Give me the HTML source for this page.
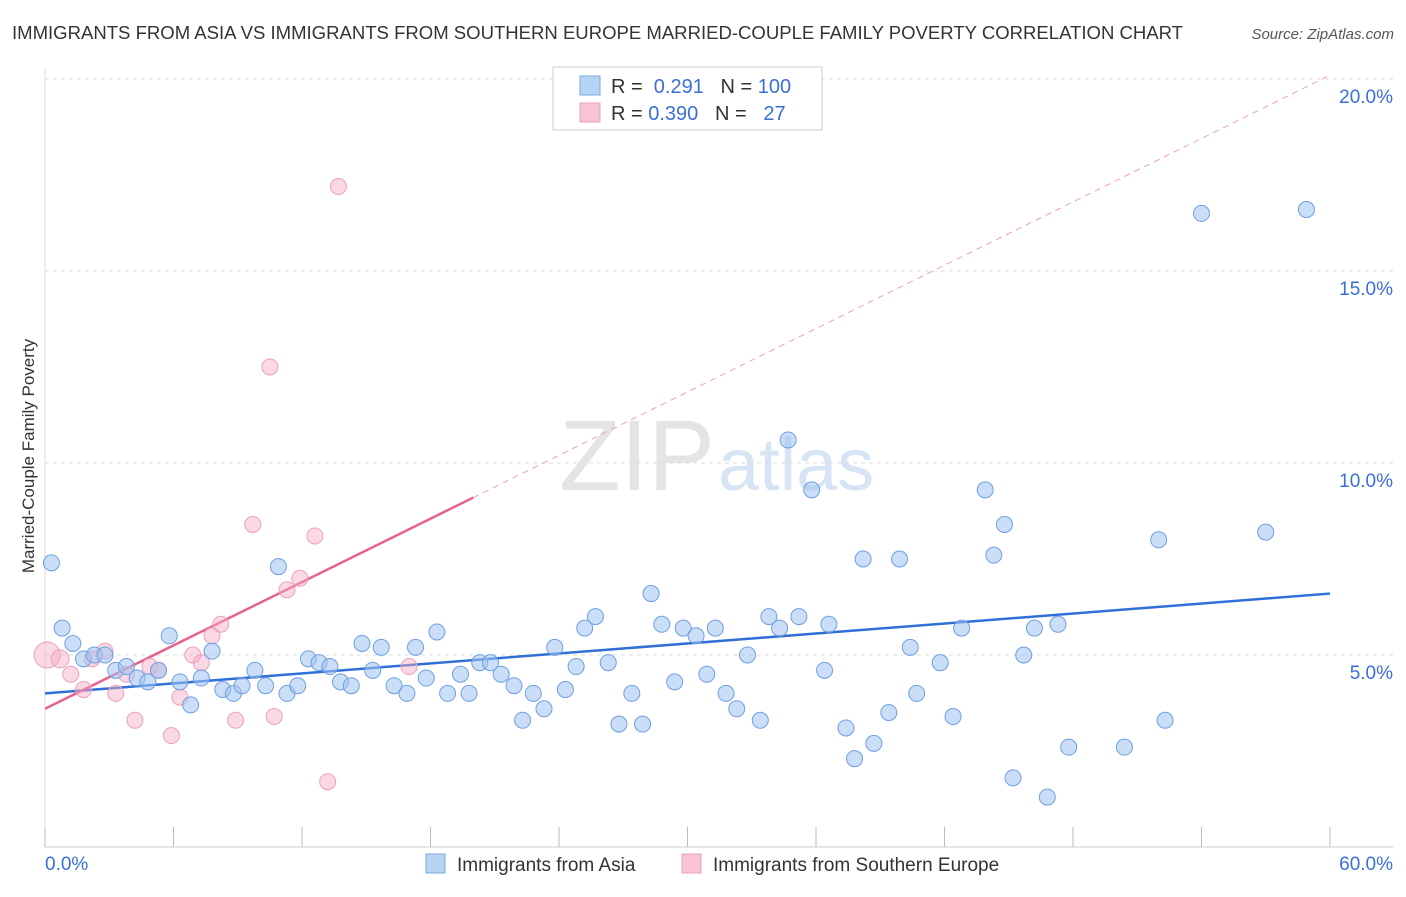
<!DOCTYPE html>
<html><head><meta charset="utf-8"><style>
body{margin:0;background:#fff;font-family:"Liberation Sans",sans-serif}
svg text{font-family:"Liberation Sans",sans-serif}
</style></head><body>
<svg id="chart" width="1406" height="892" xmlns="http://www.w3.org/2000/svg">
<text x="12" y="39" font-size="18" fill="#333" textLength="1171" lengthAdjust="spacingAndGlyphs">IMMIGRANTS FROM ASIA VS IMMIGRANTS FROM SOUTHERN EUROPE MARRIED-COUPLE FAMILY POVERTY CORRELATION CHART</text>
<text x="1394" y="39" font-size="15" fill="#555" text-anchor="end" font-style="italic">Source: ZipAtlas.com</text>
<text x="715" y="490" font-size="100" fill="#e4e4e4" text-anchor="end" font-family="Liberation Serif">ZIP</text>
<text x="718" y="490" font-size="74" fill="#d6e4f4">atlas</text>
<g id="grid"></g><g id="axes"></g><g id="lines"></g><g id="points"></g>
<text transform="translate(34,456) rotate(-90)" font-size="17" fill="#333" text-anchor="middle">Married-Couple Family Poverty</text>
<g>
<rect x="553" y="67" width="269" height="63" fill="#fff" stroke="#ccc"/>
<rect x="580" y="76" width="20" height="19" fill="#b8d4f4" stroke="#7aa8e0"/>
<rect x="580" y="103" width="20" height="19" fill="#f8c4d4" stroke="#eaa0b8"/>
<text x="611" y="93" font-size="20" fill="#333">R = <tspan fill="#3a6fd8">&#160;0.291</tspan>&#160;&#160;&#160;N = <tspan fill="#3a6fd8">100</tspan></text>
<text x="611" y="120" font-size="20" fill="#333">R = <tspan fill="#3a6fd8">0.390</tspan>&#160;&#160;&#160;N = <tspan fill="#3a6fd8">&#160;&#160;27</tspan></text>
</g>
<g>
<rect x="426" y="854" width="19" height="19" fill="#b8d4f4" stroke="#7aa8e0"/>
<text x="457" y="871" font-size="19" fill="#333">Immigrants from Asia</text>
<rect x="682" y="854" width="19" height="19" fill="#f8c4d4" stroke="#eaa0b8"/>
<text x="713" y="871" font-size="19" fill="#333">Immigrants from Southern Europe</text>
</g>
</svg>
<script>
const yTicks=[5,10,15,20];
const yTickLabels=["5.0%","10.0%","15.0%","20.0%"];
const xTickCount=10;
const asiaX=[0.3,0.8,1.3,1.8,2.3,2.8,3.3,3.8,4.3,4.8,5.3,5.8,6.3,6.8,7.3,7.8,8.3,8.8,9.2,9.8,10.3,10.9,11.3,11.8,12.3,12.8,13.3,13.8,14.3,14.8,15.3,15.7,16.3,16.9,17.3,17.8,18.3,18.8,19.4,19.8,20.3,20.8,21.3,21.9,22.3,22.8,23.3,23.8,24.3,24.8,25.2,25.7,26.3,26.8,27.4,27.9,28.3,28.8,29.4,29.8,30.4,30.9,31.3,31.8,32.3,32.8,33.4,33.8,34.3,34.7,35.2,35.8,36.4,36.6,37.4,37.8,38.2,38.7,39.4,39.9,40.4,40.7,41.8,42.4,42.8,43.9,44.3,44.8,45.2,45.7,46.2,46.8,47.3,47.8,50.4,52.0,52.3,54.0,57.0,58.9];
const asiaY=[7.4,5.7,5.3,4.9,5.0,5.0,4.6,4.7,4.4,4.3,4.6,5.5,4.3,3.7,4.4,5.1,4.1,4.0,4.2,4.6,4.2,7.3,4.0,4.2,4.9,4.8,4.7,4.3,4.2,5.3,4.6,5.2,4.2,4.0,5.2,4.4,5.6,4.0,4.5,4.0,4.8,4.8,4.5,4.2,3.3,4.0,3.6,5.2,4.1,4.7,5.7,6.0,4.8,3.2,4.0,3.2,6.6,5.8,4.3,5.7,5.5,4.5,5.7,4.0,3.6,5.0,3.3,6.0,5.7,10.6,6.0,9.3,4.6,5.8,3.1,2.3,7.5,2.7,3.5,7.5,5.2,4.0,4.8,3.4,5.7,9.3,7.6,8.4,1.8,5.0,5.7,1.3,5.8,2.6,2.6,8.0,3.3,16.5,8.2,16.6];
const euX=[0.1,0.7,1.2,1.8,2.2,2.8,3.3,3.8,4.2,4.9,5.3,5.9,6.3,6.9,7.3,7.8,8.2,8.9,9.7,10.5,10.7,11.3,11.9,12.6,13.2,13.7,17.0];
const euY=[5.0,4.9,4.5,4.1,4.9,5.1,4.0,4.5,3.3,4.7,4.6,2.9,3.9,5.0,4.8,5.5,5.8,3.3,8.4,12.5,3.4,6.7,7.0,8.1,1.7,17.2,4.7];
const euR=[13,9,8,8,8,8,8,8,8,8,8,8,8,8,8,8,8,8,8,8,8,8,8,8,8,8,8];
const asiaFit=[[0,4.0],[60,6.6]];
const euFit=[[0,3.6],[20,9.1],[60,20.1]];
const NS="http://www.w3.org/2000/svg";
const X=v=>45+v*(1285/60), Y=v=>847-v*38.4;
function mk(tag,attrs,parent){const e=document.createElementNS(NS,tag);for(const k in attrs)e.setAttribute(k,attrs[k]);document.getElementById(parent).appendChild(e);return e;}
yTicks.forEach((t,i)=>{
 const g=mk('line',{x1:45,x2:1393,y1:Y(t),y2:Y(t),stroke:'#ddd','stroke-dasharray':'4,4'},'grid');
 
 
 const l=mk('text',{x:1393,y:Y(t)+24,'font-size':19,fill:'#3a6fd8','text-anchor':'end'},'axes');l.textContent=yTickLabels[i];
 
 
});
const ax=mk('line',{x1:45,x2:1393,y1:847,y2:847,stroke:'#ccc'},'axes');


const ay=mk('line',{x1:45,x2:45,y1:68,y2:847,stroke:'#ddd'},'axes');


for(let i=0;i<=xTickCount;i++){const t=mk('line',{x1:X(i*6),x2:X(i*6),y1:827,y2:847,stroke:'#bbb'},'axes');
 
 }
[['0.0%',45,'start'],['60.0%',1393,'end']].forEach(a=>{const t=mk('text',{x:a[1],y:870,'font-size':19,fill:'#3a6fd8','text-anchor':a[2]},'axes');t.textContent=a[0];
 
 });
euX.forEach((v,i)=>{const c=mk('circle',{cx:X(v),cy:Y(euY[i]),r:euR[i],fill:'rgba(245,170,195,0.45)',stroke:'#eba0ba','stroke-width':1},'points');
 
 });
asiaX.forEach((v,i)=>{const c=mk('circle',{cx:X(v),cy:Y(asiaY[i]),r:8,fill:'rgba(160,195,240,0.55)',stroke:'#6e9fe0','stroke-width':1},'points');
 
 });
const bl=mk('line',{x1:X(asiaFit[0][0]),y1:Y(asiaFit[0][1]),x2:X(asiaFit[1][0]),y2:Y(asiaFit[1][1]),stroke:'#2f6fd6','stroke-width':2.5},'lines');


const pl=mk('line',{x1:X(euFit[0][0]),y1:Y(euFit[0][1]),x2:X(euFit[1][0]),y2:Y(euFit[1][1]),stroke:'#e8608f','stroke-width':2.5},'lines');


const pd=mk('line',{x1:X(euFit[1][0]),y1:Y(euFit[1][1]),x2:X(euFit[2][0]),y2:Y(euFit[2][1]),stroke:'#eaa0b8','stroke-width':1,'stroke-dasharray':'6,5'},'lines');


</script>
</body></html>
